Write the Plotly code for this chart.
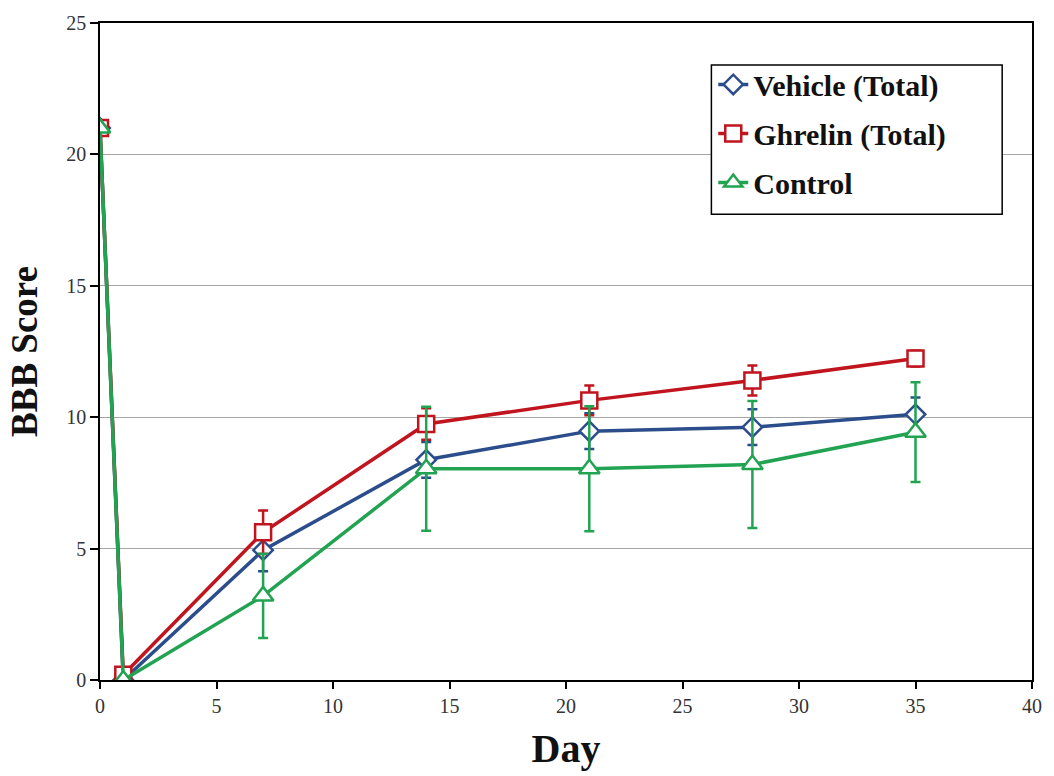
import plotly.graph_objects as go

days = [0, 1, 7, 14, 21, 28, 35]
vehicle = [21.0, 0.0, 4.94, 8.38, 9.47, 9.62, 10.11]
vehicle_err = [0, 0, 0.8, 0.68, 0.68, 0.68, 0.64]
ghrelin = [21.0, 0.2, 5.62, 9.74, 10.64, 11.4, 12.23]
ghrelin_err = [0, 0, 0.83, 0.6, 0.57, 0.57, 0.3]
control = [21.0, 0.0, 3.2, 8.04, 8.04, 8.2, 9.43]
control_err = [0, 0, 1.6, 2.36, 2.38, 2.42, 1.9]

series = [
    ("Vehicle (Total)", vehicle, vehicle_err, "#2C4D8C", "diamond", 15),
    ("Ghrelin (Total)", ghrelin, ghrelin_err, "#C0151E", "square", 16),
    ("Control", control, control_err, "#22A352", "triangle-up", 18),
]

fig = go.Figure()
for i, (name, vals, err, col, sym, sz) in enumerate(series):
    fig.add_trace(go.Scatter(
        x=days, y=vals, name=name, mode="lines+markers",
        legendgroup=f"g{i}",
        line=dict(color=col, width=3.5),
        marker=dict(symbol=sym, size=sz, color="white",
                    line=dict(color=col, width=2.5)),
        error_y=dict(type="data", array=err, visible=True,
                     color=col, thickness=2.5, width=5),
    ))

# legend frame drawn as a shape so its size matches the reference box
fig.add_shape(type="rect", xref="paper", yref="paper",
              x0=0.656, x1=0.968, y0=0.709, y1=0.936,
              fillcolor="white", line=dict(color="black", width=1.5),
              layer="above")

font_family = "Liberation Serif, Times New Roman, serif"
fig.update_layout(
    width=1054, height=776,
    margin=dict(l=100, r=21, t=17, b=96),
    paper_bgcolor="white", plot_bgcolor="white",
    font=dict(family=font_family, color="#222"),
    showlegend=True,
    legend=dict(
        x=0.658, y=0.946, xanchor="left", yanchor="top",
        bgcolor="rgba(0,0,0,0)", borderwidth=0,
        font=dict(family=font_family, size=30, color="#111", weight="bold"),
        tracegroupgap=7, itemwidth=30,
    ),
    xaxis=dict(
        range=[0, 40], tickvals=[0, 5, 10, 15, 20, 25, 30, 35, 40],
        showgrid=False, zeroline=False,
        showline=True, linecolor="black", linewidth=1.5, mirror=True,
        ticks="outside", ticklen=7, tickwidth=1.5, tickcolor="black",
        tickfont=dict(size=20, color="#333"),
        title=dict(text="<b>Day</b>", font=dict(size=40, color="#111"), standoff=18),
    ),
    yaxis=dict(
        range=[0, 25], tickvals=[0, 5, 10, 15, 20, 25],
        showgrid=True, gridcolor="#A6A6A6", gridwidth=1.2, zeroline=False,
        showline=True, linecolor="black", linewidth=1.5, mirror=True,
        ticks="outside", ticklen=8, tickwidth=1.5, tickcolor="black",
        tickfont=dict(size=20, color="#333"),
        title=dict(text="<b>BBB Score</b>", font=dict(size=37, color="#111"), standoff=17),
    ),
)

fig.write_html("out.html")
